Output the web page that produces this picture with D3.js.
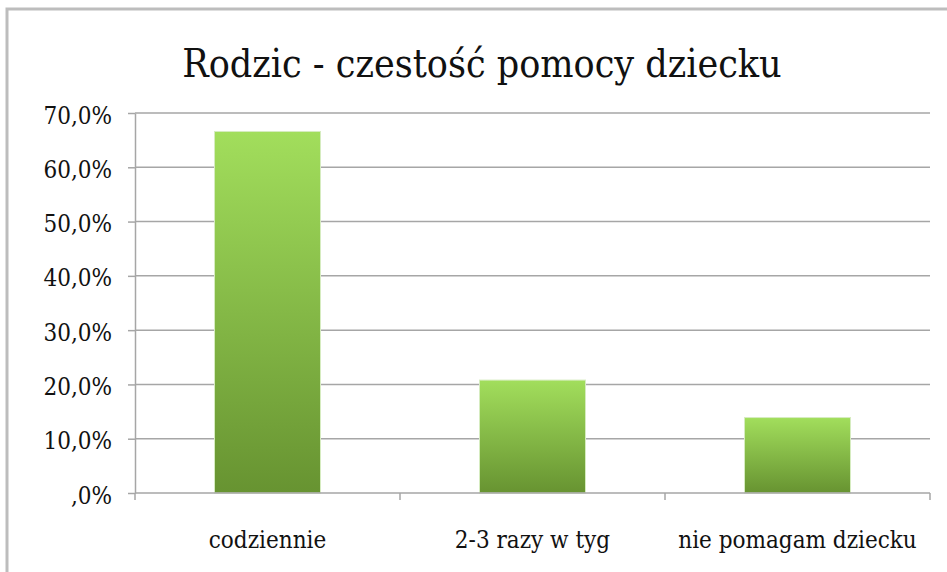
<!DOCTYPE html>
<html lang="pl">
  <head>
    <meta charset="utf-8">
    <title>Rodzic - czestość pomocy dziecku</title>
    <script src="https://cdn.jsdelivr.net/npm/d3@7"></script>
    <style>
      body { margin: 0; background: white; }
      svg text { font-family: "DejaVu Serif Condensed", "DejaVu Serif", serif !important; fill: #111; }
      .grid line { stroke: #a6a6a6; stroke-width: 1.5px; }
      .axis path, .axis line { stroke: #a6a6a6; stroke-width: 1.5px; }
    </style>
  </head>
  <body>
    <script>
      // data
      var categories = ["codziennie", "2-3 razy w tyg", "nie pomagam dziecku"];
      var values = [0.666, 0.208, 0.139];
      var yTicks = [0, 0.1, 0.2, 0.3, 0.4, 0.5, 0.6, 0.7];
      var title = "Rodzic - czestość pomocy dziecku";

      var width = 947, height = 572;
      var margin = {top: 113, right: 17, bottom: 79, left: 135};

      var svg = d3.select("body")
                  .append("svg")
                  .attr("width", width)
                  .attr("height", height);

      // outer frame
      svg.append("rect")
         .attr("x", 7).attr("y", 9)
         .attr("width", 1000).attr("height", 1000)
         .attr("fill", "none")
         .attr("stroke", "#bdbdbd")
         .attr("stroke-width", 3);

      var defs = svg.append("defs");
      var grad = defs.append("linearGradient")
                     .attr("id", "barGrad")
                     .attr("x1", 0).attr("y1", 0).attr("x2", 0).attr("y2", 1);
      grad.append("stop").attr("offset", "0%").attr("stop-color", "#a2de5c");
      grad.append("stop").attr("offset", "100%").attr("stop-color", "#679331");

      var x = d3.scaleBand()
                .domain(categories)
                .range([margin.left, width - margin.right])
                .paddingInner(0.6)
                .paddingOuter(0.3);

      var y = d3.scaleLinear()
                .domain([0, 0.7])
                .range([height - margin.bottom, margin.top]);

      // gridlines
      svg.append("g")
         .attr("class", "grid")
         .selectAll("line")
         .data(yTicks.slice(1))
         .enter()
         .append("line")
           .attr("x1", margin.left)
           .attr("x2", width - margin.right)
           .attr("y1", d => y(d))
           .attr("y2", d => y(d));

      // bars
      svg.append("g")
         .selectAll("rect")
         .data(values)
         .enter()
         .append("rect")
           .attr("x", (d, i) => x(categories[i]))
           .attr("y", d => y(d))
           .attr("width", x.bandwidth())
           .attr("height", d => y(0) - y(d))
           .attr("fill", "url(#barGrad)")
           .attr("stroke", "#d6ecc0")
           .attr("stroke-width", 1);

      // y axis
      var fmt = function(d) {
        var s = d3.format(".1f")(d * 100).replace(".", ",");
        if (s.indexOf("0,") === 0) s = s.slice(1);
        return s + "%";
      };
      var yAxis = svg.append("g")
         .attr("class", "axis")
         .attr("transform", "translate(" + margin.left + ",0)")
         .call(d3.axisLeft(y).tickValues(yTicks).tickFormat(fmt).tickSize(7).tickSizeOuter(0).tickPadding(16));
      yAxis.attr("font-family", null);
      yAxis.selectAll("text")
           .style("font-size", "24px")
           .attr("dy", "0.42em");

      // x axis with ticks between categories
      var xAxis = svg.append("g")
         .attr("class", "axis")
         .attr("transform", "translate(0," + y(0) + ")");
      xAxis.append("line")
           .attr("x1", margin.left).attr("x2", width - margin.right);
      var step = x.step();
      xAxis.selectAll(".sep")
           .data(d3.range(categories.length + 1))
           .enter()
           .append("line")
             .attr("x1", i => margin.left + i * step)
             .attr("x2", i => margin.left + i * step)
             .attr("y1", 0).attr("y2", 7);
      xAxis.selectAll(".lbl")
           .data(categories)
           .enter()
           .append("text")
             .attr("x", d => x(d) + x.bandwidth() / 2)
             .attr("y", 55)
             .attr("text-anchor", "middle")
             .style("font-size", "24px")
             .text(d => d);

      // title
      svg.append("text")
         .attr("x", 482)
         .attr("y", 77)
         .attr("text-anchor", "middle")
         .style("font-size", "39px")
         .text(title);
    </script>
  </body>
</html>
